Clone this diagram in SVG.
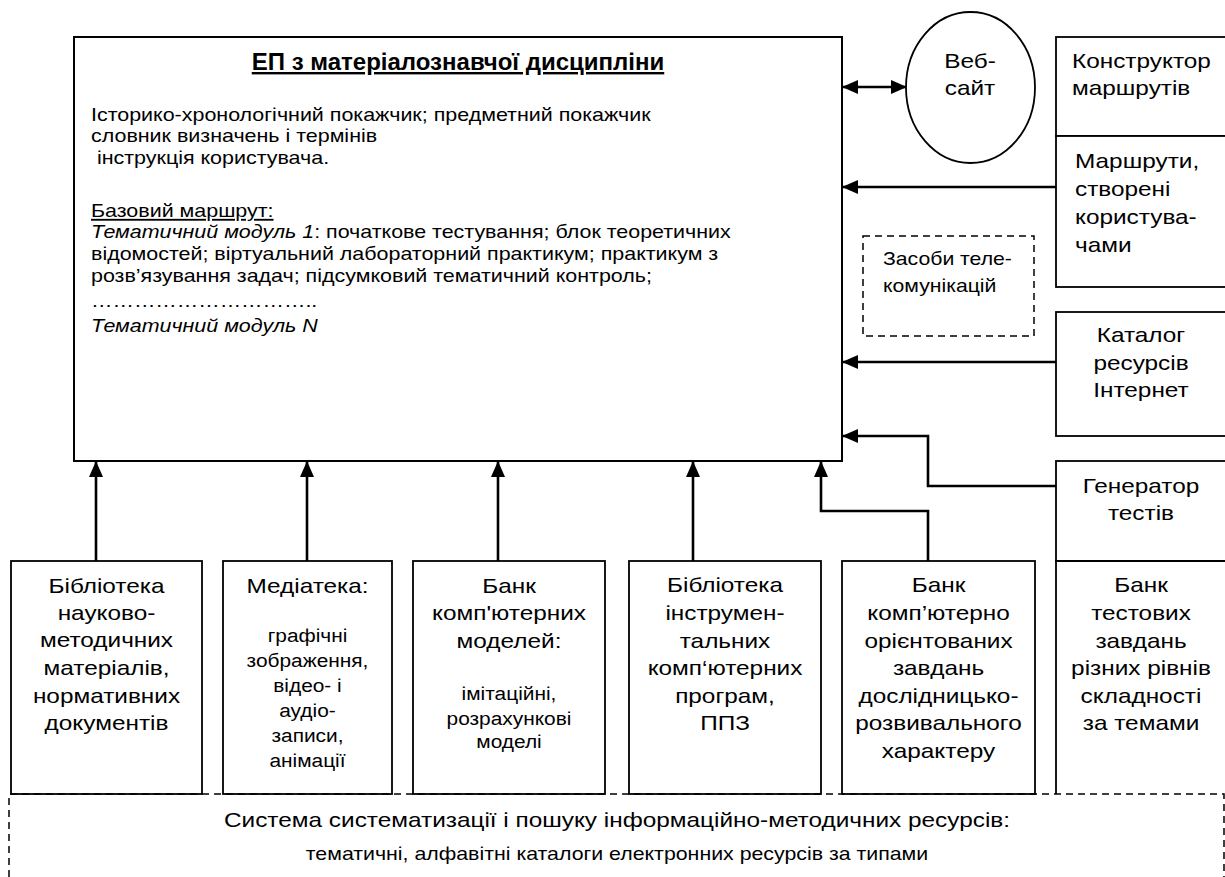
<svg xmlns="http://www.w3.org/2000/svg" width="1225" height="877" viewBox="0 0 1225 877">
<style>
text{font-family:"Liberation Sans",Arial,sans-serif;fill:#000}
.box{fill:#fff;stroke:#000;stroke-width:1.8}
.main{fill:#fff;stroke:#000;stroke-width:2}
.dash{fill:none;stroke:#000;stroke-width:1.5;stroke-dasharray:7 5}
.con{fill:none;stroke:#000;stroke-width:2.6}
.t{font-size:18.5px}
.r{font-size:21px}
.s{font-size:18px}
.c{text-anchor:middle}
.i{font-style:italic}
.u{text-decoration:underline}
</style>
<defs>
<marker id="ah" markerWidth="16" markerHeight="14" refX="15" refY="7" orient="auto-start-reverse" markerUnits="userSpaceOnUse">
<path d="M0,0 L16,7 L0,14 z" fill="#000"/>
</marker>
</defs>

<g id="main">
<rect class="main" x="74" y="37" width="768" height="424"/>
<text x="458" y="70" class="c u" style="font-size:24px;font-weight:bold">ЕП з матеріалознавчої дисципліни</text>
<text class="t" transform="matrix(1.16 0 0 1 91 0)">
<tspan x="0" y="121">Історико-хронологічний покажчик; предметний покажчик</tspan>
<tspan x="0" y="142">словник визначень і термінів</tspan>
<tspan x="0" y="164" xml:space="preserve"> інструкція користувача.</tspan>
<tspan x="0" y="217" class="u">Базовий маршрут:</tspan>
<tspan x="0" y="238"><tspan class="i">Тематичний модуль 1</tspan>: початкове тестування; блок теоретичних</tspan>
<tspan x="0" y="260">відомостей; віртуальний лабораторний практикум; практикум з</tspan>
<tspan x="0" y="282">розв’язування задач; підсумковий тематичний контроль;</tspan>
<tspan x="0" y="307">…………………………..</tspan>
<tspan x="0" y="332" class="i">Тематичний модуль N</tspan>
</text>
</g>

<g id="website">
<ellipse cx="970.5" cy="87.5" rx="64.5" ry="75.5" fill="#fff" stroke="#000" stroke-width="1.8"/>
<text class="r c" transform="matrix(1.16 0 0 1 970 0)"><tspan x="0" y="68">Веб-</tspan><tspan x="0" y="95">сайт</tspan></text>
</g>

<g id="constructor">
<rect class="box" x="1056" y="37" width="180" height="99"/>
<text class="r" transform="matrix(1.16 0 0 1 1072 0)"><tspan x="0" y="68">Конструктор</tspan><tspan x="0" y="95">маршрутів</tspan></text>
</g>

<g id="user-routes">
<rect class="box" x="1056" y="136" width="180" height="151"/>
<text class="r" transform="matrix(1.16 0 0 1 1075 0)"><tspan x="0" y="168">Маршрути,</tspan><tspan x="0" y="196">створені</tspan><tspan x="0" y="224">користува-</tspan><tspan x="0" y="252">чами</tspan></text>
</g>

<g id="telecom">
<rect class="dash" x="863" y="236" width="171" height="100"/>
<text style="font-size:18.3px" transform="matrix(1.16 0 0 1 883 0)"><tspan x="0" y="265">Засоби теле-</tspan><tspan x="0" y="292">комунікацій</tspan></text>
</g>

<g id="catalog">
<rect class="box" x="1056" y="312" width="180" height="124"/>
<text class="r c" transform="matrix(1.16 0 0 1 1141 0)"><tspan x="0" y="342">Каталог</tspan><tspan x="0" y="370">ресурсів</tspan><tspan x="0" y="397">Інтернет</tspan></text>
</g>

<g id="generator">
<rect class="box" x="1056" y="461" width="180" height="100"/>
<text class="r c" transform="matrix(1.16 0 0 1 1141 0)"><tspan x="0" y="493">Генератор</tspan><tspan x="0" y="520">тестів</tspan></text>
</g>

<g id="bank-tests">
<path d="M1236,561 H1056 V794" fill="none" stroke="#000" stroke-width="1.8"/>
<text class="r c" transform="matrix(1.16 0 0 1 1141 0)"><tspan x="0" y="592">Банк</tspan><tspan x="0" y="620">тестових</tspan><tspan x="0" y="648">завдань</tspan><tspan x="0" y="675">різних рівнів</tspan><tspan x="0" y="703">складності</tspan><tspan x="0" y="730">за темами</tspan></text>
</g>

<g id="library">
<rect class="box" x="11" y="561" width="191" height="233"/>
<text class="r c" transform="matrix(1.16 0 0 1 106.5 0)"><tspan x="0" y="593">Бібліотека</tspan><tspan x="0" y="620">науково-</tspan><tspan x="0" y="647">методичних</tspan><tspan x="0" y="675">матеріалів,</tspan><tspan x="0" y="703">нормативних</tspan><tspan x="0" y="730">документів</tspan></text>
</g>

<g id="mediateka">
<rect class="box" x="223" y="561" width="169" height="233"/>
<text class="c" transform="matrix(1.16 0 0 1 307.5 0)"><tspan x="0" y="593" class="r">Медіатека:</tspan><tspan x="0" y="642" class="s">графічні</tspan><tspan x="0" y="667" class="s">зображення,</tspan><tspan x="0" y="692" class="s">відео- і</tspan><tspan x="0" y="717" class="s">аудіо-</tspan><tspan x="0" y="742" class="s">записи,</tspan><tspan x="0" y="767" class="s">анімації</tspan></text>
</g>

<g id="models">
<rect class="box" x="413" y="561" width="192" height="233"/>
<text class="c" transform="matrix(1.16 0 0 1 509 0)"><tspan x="0" y="593" class="r">Банк</tspan><tspan x="0" y="620" class="r">комп'ютерних</tspan><tspan x="0" y="648" class="r">моделей:</tspan><tspan x="0" y="700" class="s">імітаційні,</tspan><tspan x="0" y="725" class="s">розрахункові</tspan><tspan x="0" y="748" class="s">моделі</tspan></text>
</g>

<g id="tools">
<rect class="box" x="629" y="561" width="192" height="233"/>
<text class="r c" transform="matrix(1.16 0 0 1 725 0)"><tspan x="0" y="592">Бібліотека</tspan><tspan x="0" y="620">інструмен-</tspan><tspan x="0" y="648">тальних</tspan><tspan x="0" y="675">комп‘ютерних</tspan><tspan x="0" y="703">програм,</tspan><tspan x="0" y="730">ППЗ</tspan></text>
</g>

<g id="tasks">
<rect class="box" x="842" y="561" width="193" height="233"/>
<text class="r c" transform="matrix(1.16 0 0 1 938.5 0)"><tspan x="0" y="592">Банк</tspan><tspan x="0" y="620">комп’ютерно</tspan><tspan x="0" y="648">орієнтованих</tspan><tspan x="0" y="675">завдань</tspan><tspan x="0" y="703">дослідницько-</tspan><tspan x="0" y="730">розвивального</tspan><tspan x="0" y="758">характеру</tspan></text>
</g>

<g id="search-system">
<path class="dash" d="M9,877 V794 H1224 V877"/>
<text x="0" y="827" class="r c" transform="matrix(1.16 0 0 1 617 0)">Система систематизації і пошуку інформаційно-методичних ресурсів:</text>
<text x="0" y="860" class="c" style="font-size:18.4px" transform="matrix(1.16 0 0 1 617 0)">тематичні, алфавітні каталоги електронних ресурсів за типами</text>
</g>

<g id="connectors">
<path class="con" d="M843,87 H906" marker-start="url(#ah)" marker-end="url(#ah)"/>
<path class="con" d="M1056,187 H843" marker-end="url(#ah)"/>
<path class="con" d="M1056,362 H843" marker-end="url(#ah)"/>
<path class="con" d="M1056,486 H928 V436 H843" marker-end="url(#ah)"/>
<path class="con" d="M96,561 V462" marker-end="url(#ah)"/>
<path class="con" d="M307,561 V462" marker-end="url(#ah)"/>
<path class="con" d="M498,561 V462" marker-end="url(#ah)"/>
<path class="con" d="M693,561 V462" marker-end="url(#ah)"/>
<path class="con" d="M928,561 V511 H821 V462" marker-end="url(#ah)"/>
</g>
</svg>
